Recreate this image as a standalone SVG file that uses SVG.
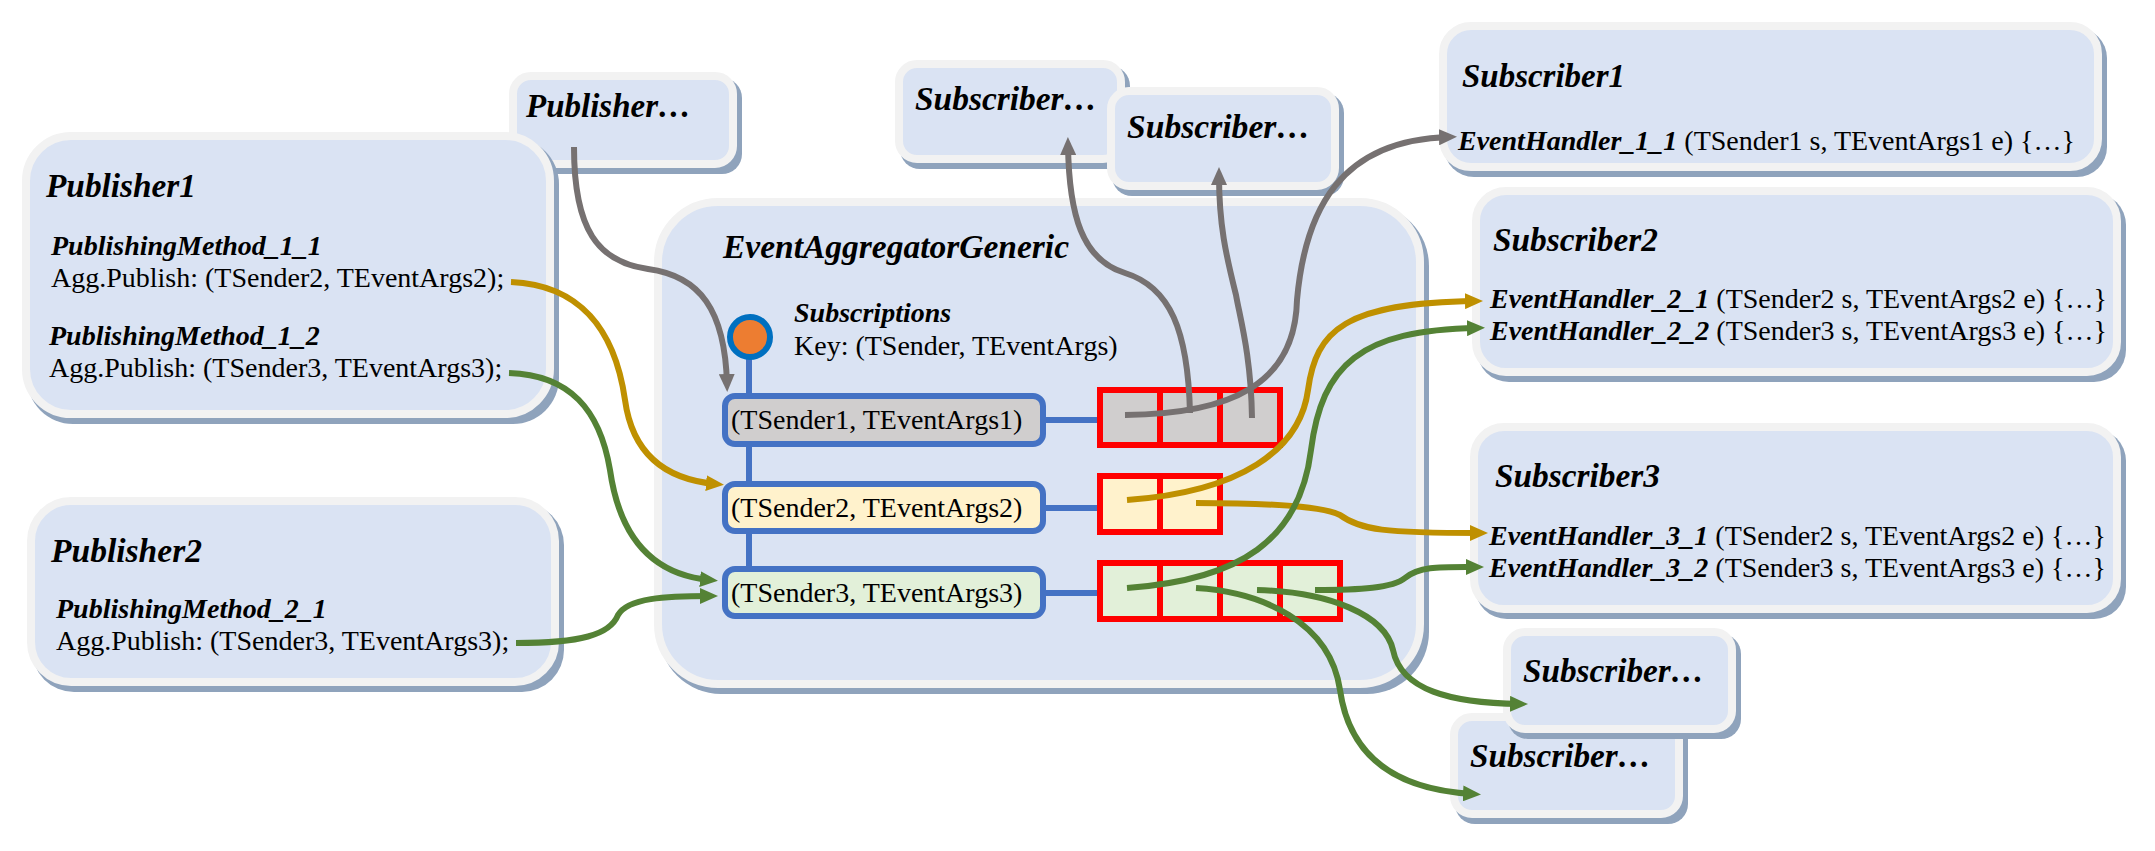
<svg xmlns="http://www.w3.org/2000/svg" width="2155" height="851" viewBox="0 0 2155 851">
<style>
.shadow{fill:#8fa3bc}
.box{fill:#dae3f3;stroke:#f2f2f2;stroke-width:8}
.t{font-family:"Liberation Serif","Times New Roman",serif;fill:#000}
.title{font-size:34px;font-weight:bold;font-style:italic}
.sub{font-size:28px;font-weight:bold;font-style:italic}
.reg{font-size:28px;font-weight:normal;font-style:normal}
.key{stroke:#4472c4;stroke-width:6}
.cell{stroke:#ff0000;stroke-width:6}
.blue{stroke:#4472c4;stroke-width:6;fill:none}
.conn{fill:none;stroke-width:6}
.gray{stroke:#767171}
.gold{stroke:#bf9000}
.green{stroke:#548235}
</style>
<defs>
<marker id="ahGray" markerUnits="userSpaceOnUse" markerWidth="18" markerHeight="16" refX="10" refY="8" orient="auto"><path d="M0,0 L18,8 L0,16 Z" fill="#767171"/></marker>
<marker id="ahGold" markerUnits="userSpaceOnUse" markerWidth="18" markerHeight="16" refX="10" refY="8" orient="auto"><path d="M0,0 L18,8 L0,16 Z" fill="#bf9000"/></marker>
<marker id="ahGreen" markerUnits="userSpaceOnUse" markerWidth="18" markerHeight="16" refX="10" refY="8" orient="auto"><path d="M0,0 L18,8 L0,16 Z" fill="#548235"/></marker>
</defs>
<rect width="2155" height="851" fill="#ffffff"/>

<g id="publisher-more">
<rect class="shadow" x="514" y="78" width="228" height="96" rx="20"/>
<rect class="box" x="513" y="76" width="220" height="88" rx="18"/>
<text class="t title" x="526" y="117" textLength="165" lengthAdjust="spacingAndGlyphs">Publisher…</text>
</g>

<g id="publisher1">
<rect class="shadow" x="27" y="138" width="532" height="286" rx="46"/>
<rect class="box" x="26" y="136" width="524" height="278" rx="45"/>
<text class="t title" x="46" y="197" textLength="150" lengthAdjust="spacingAndGlyphs">Publisher1</text>
<text class="t sub" x="51" y="255">PublishingMethod_1_1</text>
<text class="t reg" x="51" y="287">Agg.Publish: (TSender2, TEventArgs2);</text>
<text class="t sub" x="49" y="345">PublishingMethod_1_2</text>
<text class="t reg" x="49" y="377">Agg.Publish: (TSender3, TEventArgs3);</text>
</g>

<g id="publisher2">
<rect class="shadow" x="32" y="503" width="532" height="189" rx="42"/>
<rect class="box" x="31" y="501" width="524" height="181" rx="40"/>
<text class="t title" x="51" y="562" textLength="151" lengthAdjust="spacingAndGlyphs">Publisher2</text>
<text class="t sub" x="56" y="618">PublishingMethod_2_1</text>
<text class="t reg" x="56" y="650">Agg.Publish: (TSender3, TEventArgs3);</text>
</g>

<g id="event-aggregator">
<rect class="shadow" x="659" y="204" width="770" height="490" rx="62"/>
<rect class="box" x="658" y="202" width="762" height="482" rx="60"/>
<text class="t title" x="723" y="258" textLength="346" lengthAdjust="spacingAndGlyphs">EventAggregatorGeneric</text>
<line class="blue" x1="749" y1="355" x2="749" y2="569"/>
<circle cx="750" cy="337" r="20" fill="#ed7d31" stroke="#0070c0" stroke-width="6"/>
<text class="t sub" x="794" y="322">Subscriptions</text>
<text class="t reg" x="794" y="355">Key: (TSender, TEventArgs)</text>
<line class="blue" x1="1043" y1="420" x2="1100" y2="420"/>
<line class="blue" x1="1043" y1="508" x2="1100" y2="508"/>
<line class="blue" x1="1043" y1="593" x2="1100" y2="593"/>
<g id="key1">
<rect class="key" x="725" y="396" width="318" height="48" rx="10" fill="#d0cece"/>
<text class="t reg" x="731" y="429">(TSender1, TEventArgs1)</text>
</g>
<g id="key2">
<rect class="key" x="725" y="484" width="318" height="47" rx="10" fill="#fff2cc"/>
<text class="t reg" x="731" y="517">(TSender2, TEventArgs2)</text>
</g>
<g id="key3">
<rect class="key" x="725" y="569" width="318" height="47" rx="10" fill="#e2f0d9"/>
<text class="t reg" x="731" y="602">(TSender3, TEventArgs3)</text>
</g>
<g id="cells1" fill="#d0cece">
<rect class="cell" x="1100" y="390" width="60" height="55"/>
<rect class="cell" x="1160" y="390" width="60" height="55"/>
<rect class="cell" x="1220" y="390" width="60" height="55"/>
</g>
<g id="cells2" fill="#fff2cc">
<rect class="cell" x="1100" y="476" width="60" height="56"/>
<rect class="cell" x="1160" y="476" width="60" height="56"/>
</g>
<g id="cells3" fill="#e2f0d9">
<rect class="cell" x="1100" y="563" width="60" height="56"/>
<rect class="cell" x="1160" y="563" width="60" height="56"/>
<rect class="cell" x="1220" y="563" width="60" height="56"/>
<rect class="cell" x="1280" y="563" width="60" height="56"/>
</g>
</g>

<g id="subscriber-more-a">
<rect class="shadow" x="900" y="66" width="230" height="103" rx="20"/>
<rect class="box" x="899" y="64" width="222" height="95" rx="18"/>
<text class="t title" x="915" y="110" textLength="182" lengthAdjust="spacingAndGlyphs">Subscriber…</text>
</g>
<g id="subscriber-more-b">
<rect class="shadow" x="1112" y="93" width="232" height="103" rx="20"/>
<rect class="box" x="1111" y="91" width="224" height="95" rx="18"/>
<text class="t title" x="1127" y="138" textLength="183" lengthAdjust="spacingAndGlyphs">Subscriber…</text>
</g>

<g id="subscriber1">
<rect class="shadow" x="1444" y="28" width="663" height="149" rx="30"/>
<rect class="box" x="1443" y="26" width="655" height="141" rx="28"/>
<text class="t title" x="1462" y="87" textLength="163" lengthAdjust="spacingAndGlyphs">Subscriber1</text>
<text class="t sub" x="1458" y="150">EventHandler_1_1<tspan class="reg"> (TSender1 s, TEventArgs1 e) {…}</tspan></text>
</g>

<g id="subscriber2">
<rect class="shadow" x="1477" y="193" width="649" height="189" rx="32"/>
<rect class="box" x="1476" y="191" width="641" height="181" rx="30"/>
<text class="t title" x="1493" y="251" textLength="165" lengthAdjust="spacingAndGlyphs">Subscriber2</text>
<text class="t sub" x="1490" y="308">EventHandler_2_1<tspan class="reg"> (TSender2 s, TEventArgs2 e) {…}</tspan></text>
<text class="t sub" x="1490" y="340">EventHandler_2_2<tspan class="reg"> (TSender3 s, TEventArgs3 e) {…}</tspan></text>
</g>

<g id="subscriber3">
<rect class="shadow" x="1475" y="429" width="651" height="190" rx="32"/>
<rect class="box" x="1474" y="427" width="643" height="182" rx="30"/>
<text class="t title" x="1495" y="487" textLength="165" lengthAdjust="spacingAndGlyphs">Subscriber3</text>
<text class="t sub" x="1489" y="545">EventHandler_3_1<tspan class="reg"> (TSender2 s, TEventArgs2 e) {…}</tspan></text>
<text class="t sub" x="1489" y="577">EventHandler_3_2<tspan class="reg"> (TSender3 s, TEventArgs3 e) {…}</tspan></text>
</g>

<g id="subscriber-more-d">
<rect class="shadow" x="1455" y="719" width="233" height="105" rx="20"/>
<rect class="box" x="1454" y="717" width="225" height="97" rx="18"/>
<text class="t title" x="1470" y="767" textLength="181" lengthAdjust="spacingAndGlyphs">Subscriber…</text>
</g>
<g id="subscriber-more-c">
<rect class="shadow" x="1508" y="634" width="233" height="105" rx="20"/>
<rect class="box" x="1507" y="632" width="225" height="97" rx="18"/>
<text class="t title" x="1523" y="682" textLength="181" lengthAdjust="spacingAndGlyphs">Subscriber…</text>
</g>

<g id="connectors">
<path class="conn gray" marker-end="url(#ahGray)" d="M574,147 C574,230 598,262 648,269 C700,276 725,310 727,384"/>
<path class="conn gray" marker-end="url(#ahGray)" d="M1190,413 C1188,330 1170,287 1125,273 C1082,260 1069,215 1068,145"/>
<path class="conn gray" marker-end="url(#ahGray)" d="M1252,418 C1251,355 1240,318 1236,295 C1226,255 1219,225 1219,175"/>
<path class="conn gray" marker-end="url(#ahGray)" d="M1125,415 C1230,414 1295,385 1297,300 C1305,210 1340,140 1449,137"/>
<path class="conn gold" marker-end="url(#ahGold)" d="M511,282 C580,285 615,330 625,400 C633,458 670,480 716,484"/>
<path class="conn gold" marker-end="url(#ahGold)" d="M1127,500 C1240,492 1300,450 1308,390 C1316,330 1345,303 1475,301"/>
<path class="conn gold" marker-end="url(#ahGold)" d="M1196,503 C1262,503 1322,506 1340,515 C1360,530 1385,533 1480,533"/>
<path class="conn green" marker-end="url(#ahGreen)" d="M509,373 C570,375 600,410 610,470 C620,540 655,575 710,580"/>
<path class="conn green" marker-end="url(#ahGreen)" d="M516,643 C580,643 610,635 618,615 C628,598 665,596 710,596"/>
<path class="conn green" marker-end="url(#ahGreen)" d="M1127,588 C1240,580 1300,540 1311,450 C1322,365 1360,330 1477,328"/>
<path class="conn green" marker-end="url(#ahGreen)" d="M1196,588 C1262,592 1330,622 1340,690 C1350,760 1400,790 1473,794"/>
<path class="conn green" marker-end="url(#ahGreen)" d="M1257,590 C1330,592 1385,615 1393,650 C1401,690 1450,703 1520,704"/>
<path class="conn green" marker-end="url(#ahGreen)" d="M1315,590 C1360,590 1393,588 1405,578 C1420,566 1440,567 1476,567"/>
</g>
</svg>
